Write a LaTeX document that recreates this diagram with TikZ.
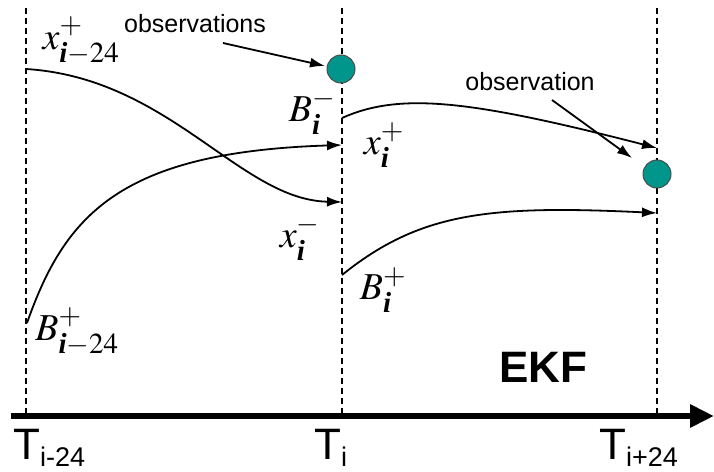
\documentclass[tikz,border=0pt]{standalone}
\usepackage{amsmath}
\usepackage{mathptmx}
\usepackage{fontspec}
\setmainfont{Liberation Sans}
\newfontfamily\tnr{Liberation Serif}
\usetikzlibrary{arrows.meta}
\definecolor{tealobs}{RGB}{0,150,140}
\DeclareMathSizes{38}{38}{29}{22}
\newcommand{\tsub}[1]{\raisebox{-7pt}{\fontsize{27}{30}\selectfont #1}}
\newcommand{\bi}{\text{\tnr\bfseries\itshape i}}
\tikzset{
  guide/.style={dashed, line width=1.2pt, dash pattern=on 6pt off 4pt},
  traj/.style={line width=1.8pt, -{Latex[length=15pt,width=10pt]}},
  pointer/.style={line width=1.8pt, -{Latex[length=15pt,width=10pt]}},
  obsdot/.style={circle, fill=tealobs, draw=black!70, line width=1pt, minimum size=28pt, inner sep=0pt},
  mathlbl/.style={font=\fontsize{38}{42}\selectfont, inner sep=0pt},
  sanslbl/.style={font=\fontsize{25}{28}\selectfont, inner sep=0pt},
  tlbl/.style={font=\fontsize{44}{48}\selectfont, inner sep=0pt, anchor=base west},
}
\begin{document}
\begin{tikzpicture}[x=1pt,y=-1pt]
\useasboundingbox (0,0) rectangle (714,471);
% guides
\coordinate (g1t) at (26,8);   \coordinate (g1b) at (26,413);
\coordinate (g2t) at (342,8);  \coordinate (g2b) at (342,413);
\coordinate (g3t) at (657,8);  \coordinate (g3b) at (657,413);
\draw[guide] (g1t) -- (g1b);
\draw[guide] (g2t) -- (g2b);
\draw[guide] (g3t) -- (g3b);
% axis
\coordinate (ax0) at (11,416);
\coordinate (ax1) at (714,416);
\draw[line width=6pt, -{Triangle[length=24pt,width=22pt]}] (ax0) -- (ax1);
% time labels
\node[tlbl] (t1) at (13,459) {T\tsub{i-24}};
\node[tlbl] (t2) at (314,459) {T\tsub{i}};
\node[tlbl] (t3) at (599,459) {T\tsub{i+24}};
% EKF
\node[font=\fontsize{44}{48}\selectfont\bfseries, inner sep=0pt] (ekf) at (543,367) {EKF};
% observation dots
\node[obsdot] (obs1) at (341,69) {};
\node[obsdot] (obs2) at (657,174) {};
% trajectories
\coordinate (a0) at (26,69);   \coordinate (a1) at (342,202);
\coordinate (b0) at (27,323);  \coordinate (b1) at (342,145);
\coordinate (c0) at (342,118); \coordinate (c1) at (657,148);
\coordinate (d0) at (342,275); \coordinate (d1) at (657,213);
\draw[traj] (a0) .. controls (170,78) and (240,200) .. (a1);
\draw[traj] (b0) .. controls (65,215) and (120,152) .. (b1);
\draw[traj] (c0) .. controls (400,92) and (470,100) .. (c1);
\draw[traj] (d0) .. controls (420,212) and (490,205) .. (d1);
% observation labels
\node[sanslbl] (ol1) at (195,24) {observations};
\node[sanslbl] (ol2) at (530,82) {observation};
\coordinate (p1) at (223,43);  \coordinate (q1) at (325,66);
\coordinate (p2) at (552,100); \coordinate (q2) at (632,158);
\draw[pointer] (p1) -- (q1);
\draw[pointer] (p2) -- (q2);
% math labels
\node[mathlbl] (xa) at (81,41) {$x^{+}_{\bi-24}$};
\node[mathlbl] (bm) at (312,112) {$B^{-}_{\bi}$};
\node[mathlbl] (xm) at (300,238) {$x^{-}_{\bi}$};
\node[mathlbl] (xp) at (384,145) {$x^{+}_{\bi}$};
\node[mathlbl] (bp) at (383,290) {$B^{+}_{\bi}$};
\node[mathlbl] (ba) at (77,332) {$B^{+}_{\bi-24}$};
\end{tikzpicture}
\end{document}
